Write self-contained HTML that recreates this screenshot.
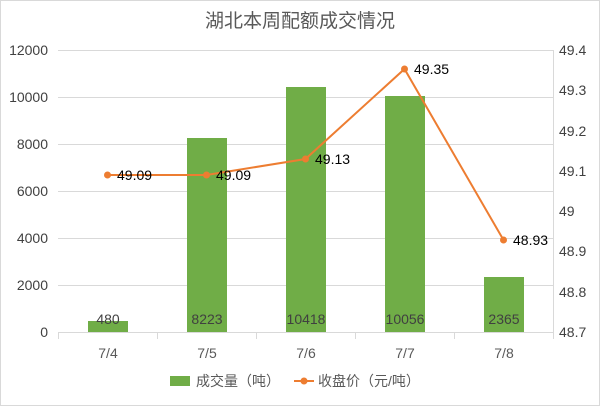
<!DOCTYPE html>
<html><head><meta charset="utf-8"><style>
body{margin:0;background:#fff}
svg{display:block;font-family:"Liberation Sans","Noto Sans CJK SC",sans-serif}
</style></head><body>
<svg width="600" height="406" viewBox="0 0 600 406">
<rect x="0.5" y="0.5" width="599" height="405" fill="#fff" stroke="#d9d9d9"/>
<text x="300" y="27" text-anchor="middle" font-size="19" fill="#595959">湖北本周配额成交情况</text>
<g stroke="#d9d9d9" stroke-width="1">
<line x1="58" x2="553" y1="50.5" y2="50.5"/>
<line x1="58" x2="553" y1="97.5" y2="97.5"/>
<line x1="58" x2="553" y1="144.5" y2="144.5"/>
<line x1="58" x2="553" y1="191.5" y2="191.5"/>
<line x1="58" x2="553" y1="238.5" y2="238.5"/>
<line x1="58" x2="553" y1="285.5" y2="285.5"/>
<line x1="58" x2="553" y1="332.5" y2="332.5"/>
<line x1="553.5" x2="553.5" y1="50" y2="332"/>
<line x1="58.5" x2="58.5" y1="332" y2="339"/>
<line x1="157.5" x2="157.5" y1="332" y2="339"/>
<line x1="256.5" x2="256.5" y1="332" y2="339"/>
<line x1="355.5" x2="355.5" y1="332" y2="339"/>
<line x1="454.5" x2="454.5" y1="332" y2="339"/>
<line x1="553.5" x2="553.5" y1="332" y2="339"/>
</g>
<g font-size="14" fill="#404040" text-anchor="end">
<text x="48" y="55">12000</text><text x="48" y="102">10000</text><text x="48" y="149">8000</text>
<text x="48" y="196">6000</text><text x="48" y="243">4000</text><text x="48" y="290">2000</text><text x="48" y="337">0</text>
</g>
<g font-size="14" fill="#404040">
<text x="559" y="55">49.4</text><text x="559" y="95">49.3</text><text x="559" y="136">49.2</text>
<text x="559" y="176">49.1</text><text x="559" y="216">49</text><text x="559" y="256">48.9</text>
<text x="559" y="297">48.8</text><text x="559" y="337">48.7</text>
</g>
<g fill="#70ad47">
<rect x="88" y="321" width="40" height="11"/>
<rect x="187" y="138" width="40" height="194"/>
<rect x="286" y="87" width="40" height="245"/>
<rect x="385" y="96" width="40" height="236"/>
<rect x="484" y="277" width="40" height="55"/>
</g>
<g font-size="14" fill="#404040" text-anchor="middle">
<text x="108" y="324">480</text><text x="207" y="324">8223</text><text x="306" y="324">10418</text>
<text x="405" y="324">10056</text><text x="504" y="324">2365</text>
</g>
<polyline points="107.5,175 206.5,175 305.5,159 404.5,69 503.5,240" fill="none" stroke="#ed7d31" stroke-width="2"/>
<g fill="#ed7d31">
<circle cx="107.5" cy="175" r="3.5"/><circle cx="206.5" cy="175" r="3.5"/><circle cx="305.5" cy="159" r="3.5"/>
<circle cx="404.5" cy="69" r="3.5"/><circle cx="503.5" cy="240" r="3.5"/>
</g>
<g font-size="14" fill="#000">
<text x="117" y="180">49.09</text><text x="216" y="180">49.09</text><text x="315" y="164">49.13</text>
<text x="414" y="74">49.35</text><text x="513" y="245">48.93</text>
</g>
<g font-size="14" fill="#595959" text-anchor="middle">
<text x="108" y="358">7/4</text><text x="207" y="358">7/5</text><text x="306" y="358">7/6</text>
<text x="405" y="358">7/7</text><text x="504" y="358">7/8</text>
</g>
<rect x="170" y="376" width="20" height="10" fill="#70ad47"/>
<text x="196" y="386" font-size="14" fill="#595959">成交量（吨）</text>
<line x1="294" x2="314" y1="381" y2="381" stroke="#ed7d31" stroke-width="2"/>
<circle cx="304" cy="381" r="3.5" fill="#ed7d31"/>
<text x="318" y="386" font-size="14" fill="#595959">收盘价（元/吨）</text>
</svg>
</body></html>
